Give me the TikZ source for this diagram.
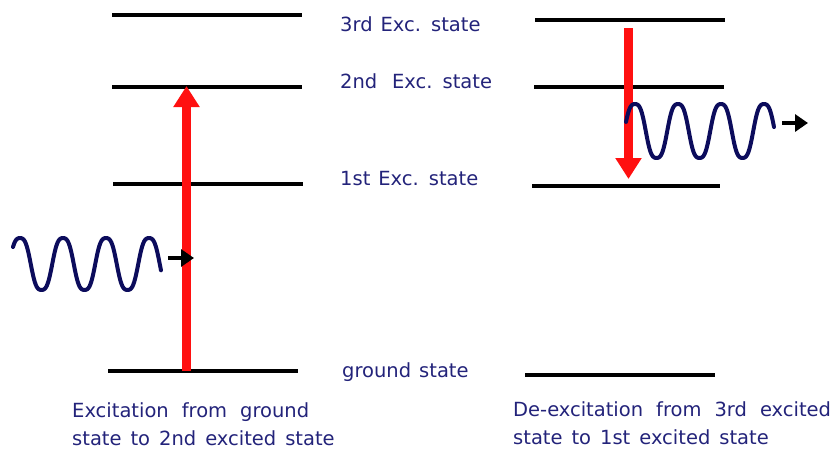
\documentclass[tikz,border=0pt]{standalone}
\usepackage{fontspec}
\setmainfont{DejaVu Sans}
\usetikzlibrary{arrows.meta}
\definecolor{txtnavy}{HTML}{23237A}
\definecolor{wavenavy}{HTML}{0C0C5C}
\definecolor{arrred}{HTML}{FF1010}
\newcommand\mylblfont{\fontsize{19.5}{24}\selectfont\spaceskip 8pt\relax}
\newcommand\mycapAfont{\fontsize{19.5}{24}\selectfont\spaceskip 13pt\relax}
\newcommand\mycapBfont{\fontsize{19.5}{24}\selectfont\spaceskip 9pt\relax}
\tikzset{
  level/.style={line width=4pt, black},
  bigarrow/.style={line width=9pt, arrred, -{Triangle[length=21pt,width=25pt]}},
  photon/.style={line width=4pt, wavenavy, line join=round, line cap=round},
  smallarrow/.style={line width=3.5pt, black, -{Triangle[length=13pt,width=17pt]}},
  lbl/.style={anchor=base west, inner sep=0pt, text=txtnavy, font=\mylblfont},
  capA/.style={lbl, font=\mycapAfont},
  capB/.style={lbl, font=\mycapBfont},
}
\begin{document}
\begin{tikzpicture}[x=1pt,y=-1pt]
\useasboundingbox (0,0) rectangle (839,451);
% left levels
\draw[level] (112,15) -- (302,15);
\draw[level] (112,87) -- (302,87);
\draw[level] (113,184) -- (303,184);
\draw[level] (108,371) -- (298,371);
% right levels
\draw[level] (535,20) -- (725,20);
\draw[level] (534,87) -- (724,87);
\draw[level] (532,186) -- (720,186);
\draw[level] (525,375) -- (715,375);
% arrow coordinates
\coordinate (lbot) at (186.5,371);
\coordinate (ltop) at (186.5,86);
\coordinate (rtop) at (628.5,28);
\coordinate (rbot) at (628.5,179);
\draw[bigarrow] (lbot) -- (ltop);
\draw[bigarrow] (rtop) -- (rbot);
% photons
\draw[photon] plot[domain=13:161, samples=150, smooth]
  (\x, {264-26/0.92*(cos((\x-20)/43*360)-0.08*cos(3*(\x-20)/43*360))});
\draw[photon] plot[domain=626:774, samples=150, smooth]
  (\x, {131-27/0.92*(cos((\x-635)/43*360)-0.08*cos(3*(\x-635)/43*360))});
\coordinate (la0) at (168,258);
\coordinate (la1) at (194,258);
\coordinate (ra0) at (782,123);
\coordinate (ra1) at (808,123);
\draw[smallarrow] (la0) -- (la1);
\draw[smallarrow] (ra0) -- (ra1);
% labels
\node[lbl] (t3) at (340,31) {3rd Exc. state};
\node[lbl] (t2) at (340,88) {2nd\hspace{0.35em} Exc. state};
\node[lbl] (t1) at (340,185) {1st Exc. state};
\node[lbl] (t0) at (342,377) {ground state};
\node[capA] (c1a) at (72,417) {Excitation from ground};
\node[capB] (c1b) at (72,445) {state to 2nd excited state};
\node[capA] (c2a) at (513,416) {De-excitation from 3rd excited};
\node[capB] (c2b) at (513,444) {state to 1st excited state};
\end{tikzpicture}
\end{document}
